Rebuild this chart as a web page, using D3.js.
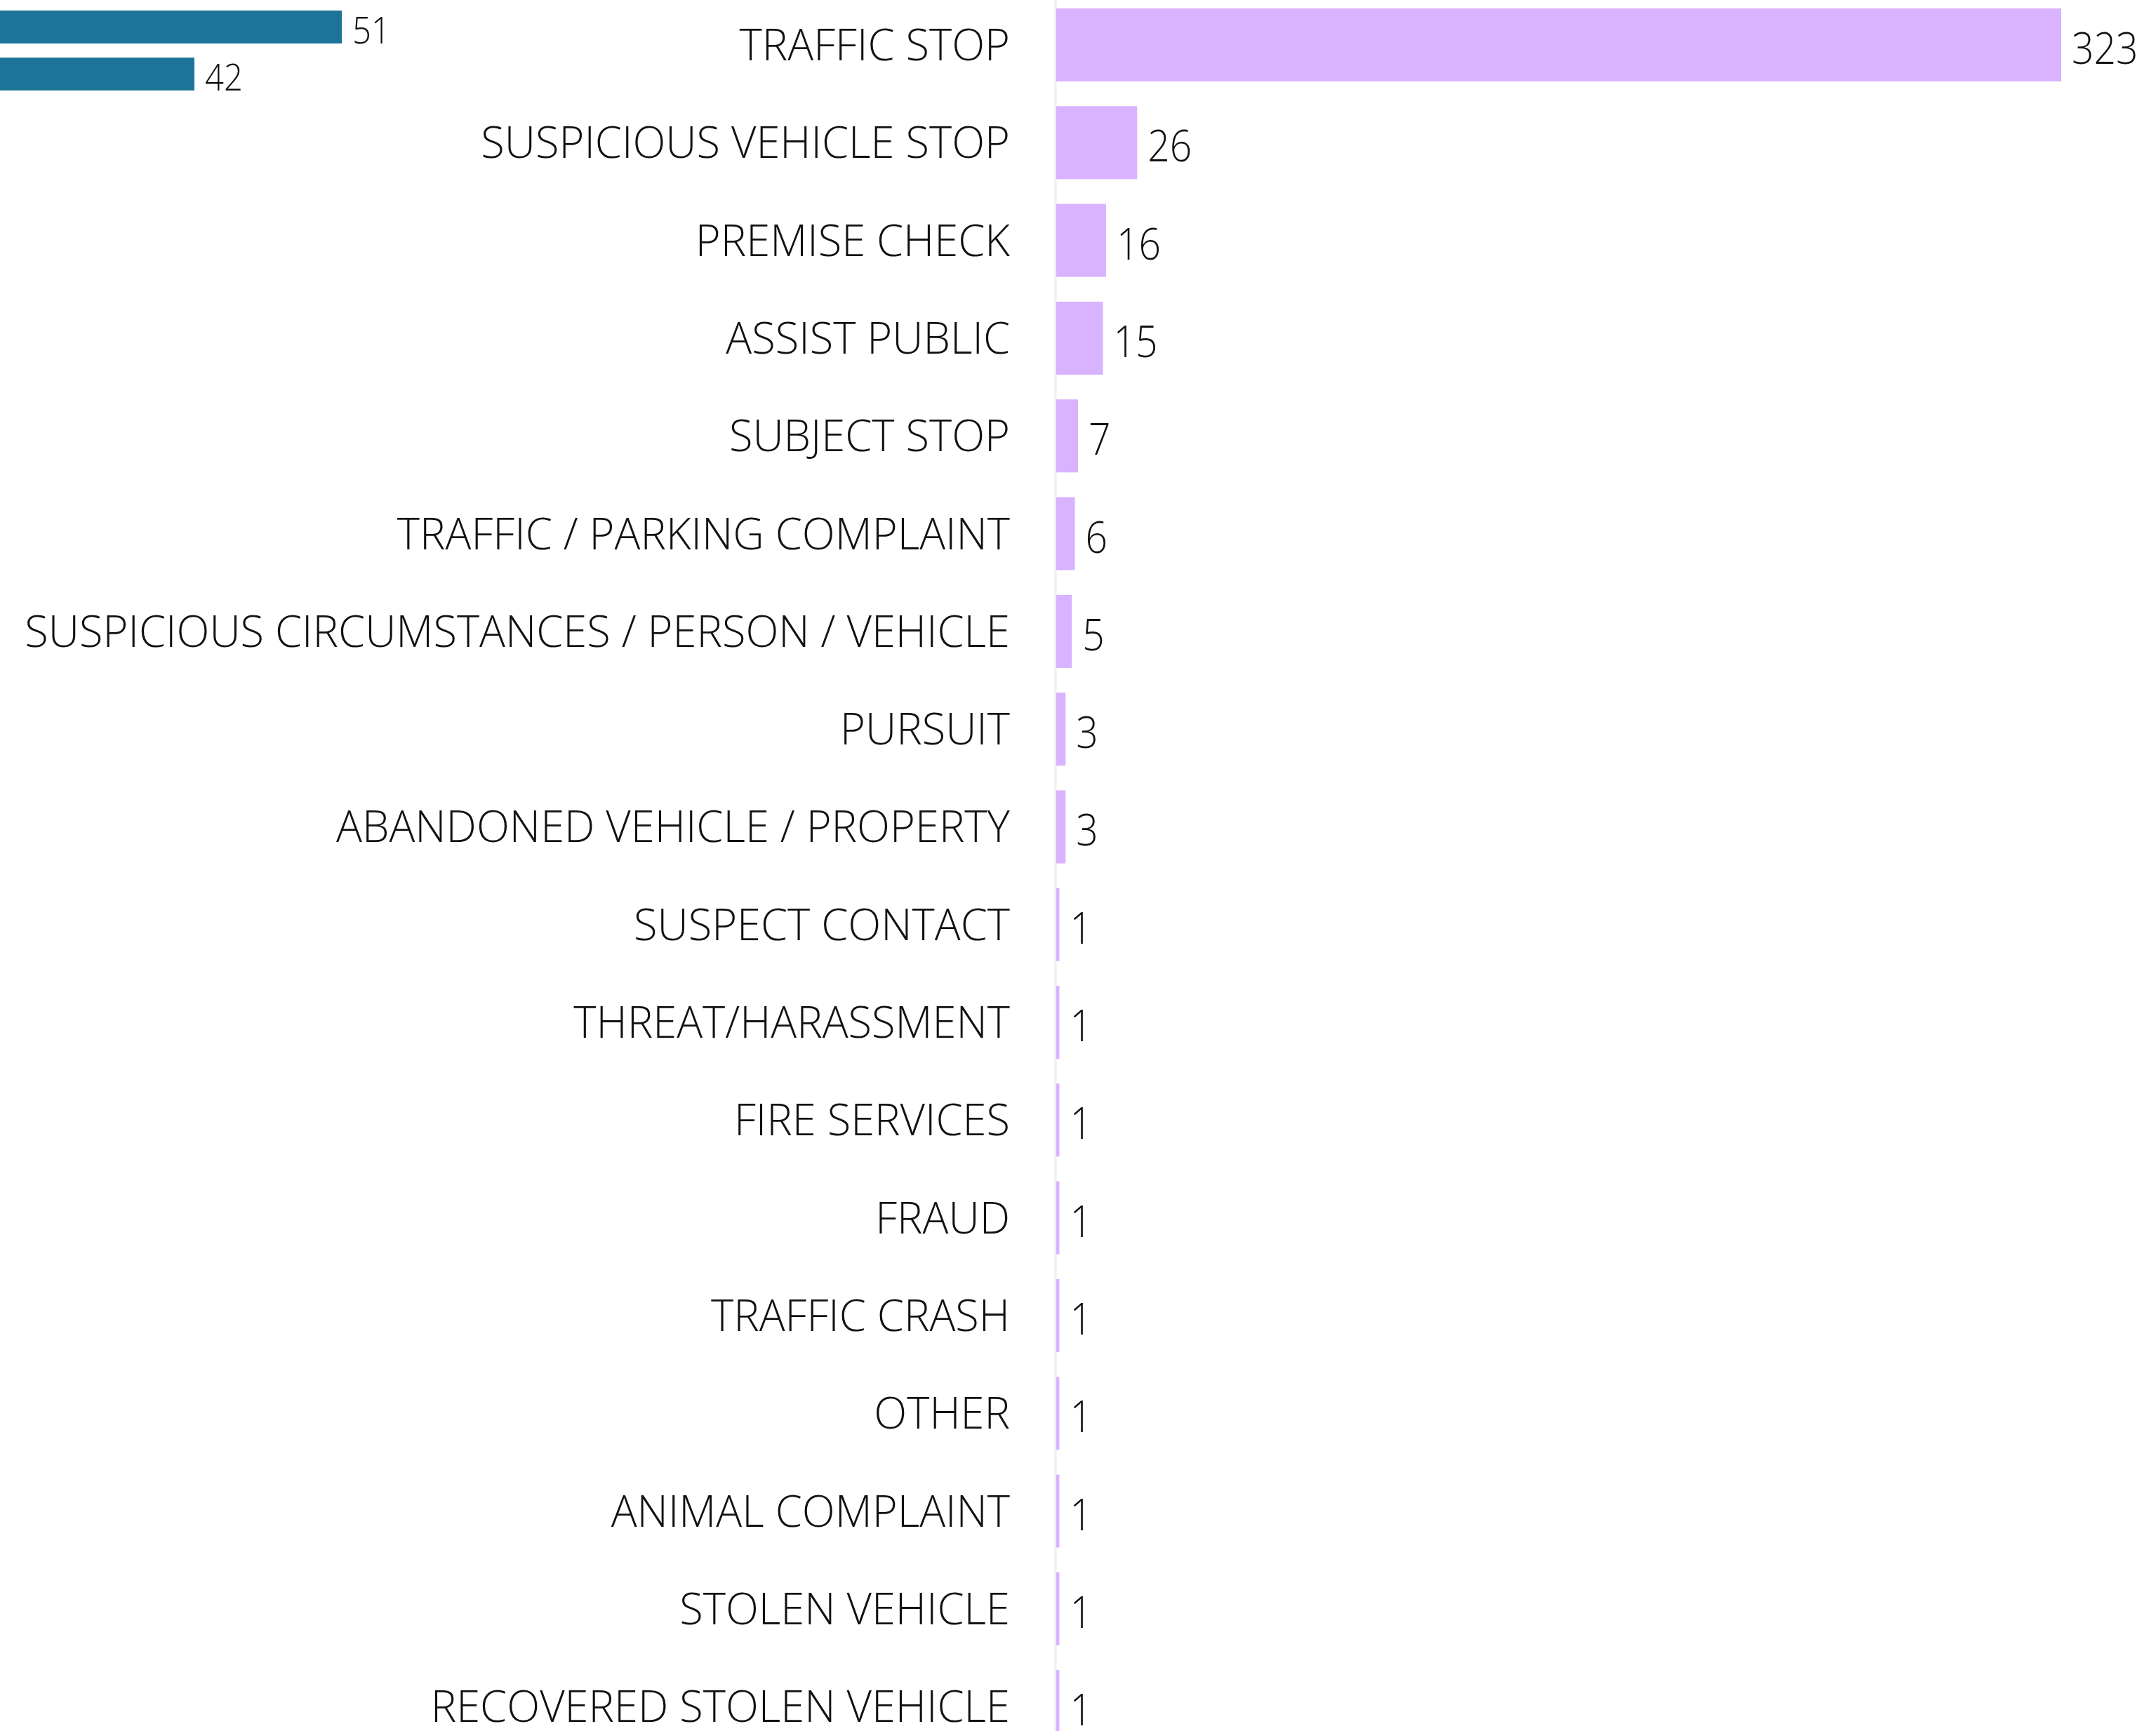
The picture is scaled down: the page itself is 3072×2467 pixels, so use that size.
<!DOCTYPE html>
<html>
<head>
<meta charset="utf-8">
<script src="https://cdn.jsdelivr.net/npm/d3@7"></script>
<style>
  html, body { margin: 0; padding: 0; background: #fff; }
  svg { display: block; }
  text { font-family: 'Open Sans', 'Segoe UI', sans-serif; font-weight: 300; fill: #111; }
</style>
</head>
<body>
<svg id="chart" width="3072" height="2467"></svg>
<script>
// main chart data
const categories = [
  'TRAFFIC STOP',
  'SUSPICIOUS VEHICLE STOP',
  'PREMISE CHECK',
  'ASSIST PUBLIC',
  'SUBJECT STOP',
  'TRAFFIC / PARKING COMPLAINT',
  'SUSPICIOUS CIRCUMSTANCES / PERSON / VEHICLE',
  'PURSUIT',
  'ABANDONED VEHICLE / PROPERTY',
  'SUSPECT CONTACT',
  'THREAT/HARASSMENT',
  'FIRE SERVICES',
  'FRAUD',
  'TRAFFIC CRASH',
  'OTHER',
  'ANIMAL COMPLAINT',
  'STOLEN VEHICLE',
  'RECOVERED STOLEN VEHICLE'
]
const counts = [323, 26, 16, 15, 7, 6, 5, 3, 3, 1, 1, 1, 1, 1, 1, 1, 1, 1]

// partly visible chart at the top left (its axis is cut off)
const sideValues = [51, 42]

// Open Sans is a little wider than the original light face
const catSqueeze = 0.975
const valSqueeze = 0.89

const svg = d3.select('#chart')

const x = d3.scaleLinear().domain([0, 323]).range([1505, 2937])
const y = d3.scaleBand()
  .domain(categories)
  .range([-5.6, -5.6 + 18 * 139.3])
  .paddingInner(0.253)
  .paddingOuter(0.1265)

// axis line
svg.append('line')
  .attr('x1', 1504).attr('x2', 1504)
  .attr('y1', 0).attr('y2', 2467)
  .attr('stroke', '#ececec')
  .attr('stroke-width', 3)

const rows = categories.map((c, i) => ({ cat: c, val: counts[i] }))

svg.selectAll('.bar')
  .data(rows)
  .enter().append('rect')
  .attr('class', 'bar')
  .attr('x', x(0))
  .attr('y', d => y(d.cat))
  .attr('width', d => x(d.val) - x(0))
  .attr('height', y.bandwidth())
  .attr('fill', '#d9b3ff')

svg.selectAll('.cat')
  .data(rows)
  .enter().append('text')
  .attr('class', 'cat')
  .attr('transform', d => 'translate(1439,' + (y(d.cat) + y.bandwidth() / 2 + 22) + ') scale(' + catSqueeze + ',1)')
  .attr('text-anchor', 'end')
  .style('font-size', '63px')
  .text(d => d.cat)

svg.selectAll('.val')
  .data(rows)
  .enter().append('text')
  .attr('class', 'val')
  .attr('transform', d => 'translate(' + (x(d.val) + 15) + ',' + (y(d.cat) + y.bandwidth() / 2 + 27) + ') scale(' + valSqueeze + ',1)')
  .style('font-size', '62px')
  .text(d => d.val)

// left side bars
const xs = d3.scaleLinear().domain([0, 51]).range([-703, 487])
const ys = d3.scaleBand()
  .domain(d3.range(sideValues.length))
  .range([5, 5 + 2 * 67])
  .paddingInner(0.3)
  .paddingOuter(0.15)

svg.selectAll('.sbar')
  .data(sideValues)
  .enter().append('rect')
  .attr('class', 'sbar')
  .attr('x', xs(0))
  .attr('y', (d, i) => ys(i))
  .attr('width', d => xs(d) - xs(0))
  .attr('height', ys.bandwidth())
  .attr('fill', '#1c7599')

svg.selectAll('.sval')
  .data(sideValues)
  .enter().append('text')
  .attr('class', 'sval')
  .attr('transform', (d, i) => 'translate(' + (xs(d) + 15) + ',' + (ys(i) + ys.bandwidth()) + ') scale(' + valSqueeze + ',1)')
  .style('font-size', '53px')
  .text(d => d)
</script>
</body>
</html>
